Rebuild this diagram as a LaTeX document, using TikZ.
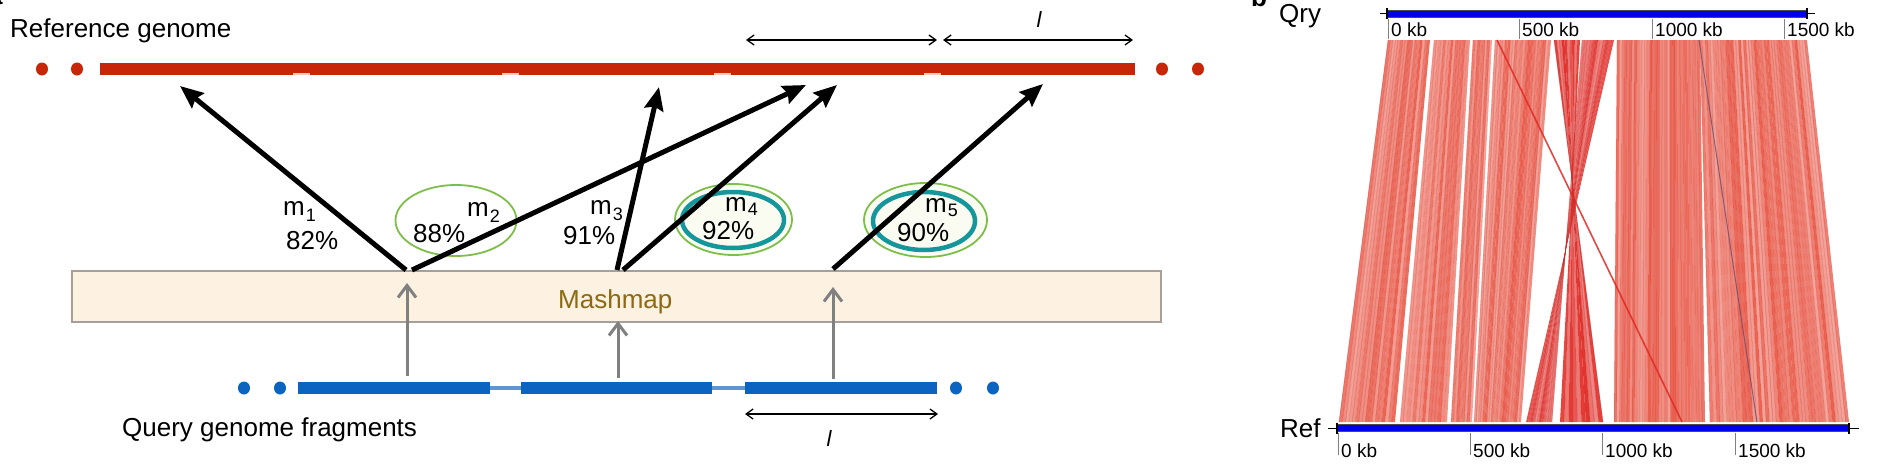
\documentclass[tikz,border=0pt]{standalone}
\usepackage{fontspec}
\setmainfont{Liberation Sans}
\usetikzlibrary{arrows.meta}
\definecolor{refred}{RGB}{200,38,8}
\definecolor{qblue}{RGB}{10,100,192}
\definecolor{qlight}{RGB}{95,150,210}
\definecolor{boxfill}{RGB}{253,241,226}
\definecolor{boxdraw}{RGB}{165,160,155}
\definecolor{mashtext}{RGB}{140,105,20}
\definecolor{ellgreen}{RGB}{125,190,75}
\definecolor{ellteal}{RGB}{20,150,155}
\definecolor{ellfill}{RGB}{250,252,242}
\definecolor{ribred}{RGB}{234,88,70}
\definecolor{ribdark}{RGB}{190,40,40}
\definecolor{ribdeep}{RGB}{225,40,35}
\definecolor{axblue}{RGB}{0,0,235}
\definecolor{feedgray}{RGB}{128,128,128}
\newcommand\msub[2][6pt]{m\kern1pt\raisebox{-#1}{\fontsize{18}{18}\selectfont #2}}
\newcommand\ribb[6][ribred]{%
  \foreach \i in {1,...,#6}{%
    \pgfmathsetmacro\ta{#2+(#3-#2)*(\i-1)/#6}%
    \pgfmathsetmacro\tb{#2+(#3-#2)*\i/#6}%
    \pgfmathsetmacro\ba{#4+(#5-#4)*(\i-1)/#6}%
    \pgfmathsetmacro\bb{#4+(#5-#4)*\i/#6}%
    \pgfmathsetmacro\op{0.55+0.4*rnd}%
    \pgfmathsetmacro\lo{0.15+0.35*rnd}%
    \fill[#1, fill opacity=\op] (\ta,40) -- (\tb,40) -- (\bb,422) -- (\ba,422) -- cycle;
    \draw[ribdark, line width=0.5pt, opacity=\lo] (\ta,40) -- (\ba,422);
  }}
\begin{document}
\begin{tikzpicture}[x=1pt,y=-1pt,
  txt/.style={font=\fontsize{26}{30}\selectfont, inner sep=0pt, anchor=base west},
  small/.style={font=\fontsize{19}{22}\selectfont, inner sep=0pt, anchor=base west},
  matcharrow/.style={line width=5pt, -{Stealth[length=23pt,width=19pt,inset=3pt]}},
  feed/.style={draw=feedgray, line width=3pt, -{Straight Barb[length=12pt,width=18pt]}},
  dimarrow/.style={line width=1.3pt, {Straight Barb[length=7pt,width=10pt]}-{Straight Barb[length=7pt,width=10pt]}},
  outerell/.style={draw=ellgreen, line width=1.8pt},
  innerell/.style={draw=ellteal, line width=4.5pt},
  tick/.style={draw=feedgray, line width=1pt}]
\useasboundingbox (0,0) rectangle (1878,471);
\clip (0,0) rectangle (1878,471);
\pgfmathsetseed{11}

% panel labels (clipped at top)
\node[font=\fontsize{26}{30}\selectfont\bfseries, inner sep=0pt, anchor=base west] (pa) at (-12,5) {a};
\node[font=\fontsize{26}{30}\selectfont\bfseries, inner sep=0pt, anchor=base west] (pb) at (1251,6) {b};

% ---------- panel a ----------
\node[txt] (reftitle) at (10,37) {Reference genome};
\fill[refred] (42,69) ellipse [x radius=6pt, y radius=6.5pt];
\fill[refred] (77,69) ellipse [x radius=6pt, y radius=6.5pt];
\fill[refred] (100,63) rectangle (1135,75);
\foreach \nx in {293,502,714,924}{\fill[refred!25] (\nx,73.2) rectangle ++(17,2);}
\fill[refred] (1162,69) ellipse [x radius=6pt, y radius=6.5pt];
\fill[refred] (1198,69) ellipse [x radius=6pt, y radius=6.5pt];

% length markers
\coordinate (d1a) at (746,40); \coordinate (d1b) at (937,40);
\coordinate (d2a) at (943,40); \coordinate (d2b) at (1133,40);
\draw[dimarrow] (d1a) -- (d1b);
\draw[dimarrow] (d2a) -- (d2b);
\node[font=\fontsize{22}{24}\selectfont\itshape, inner sep=0pt] (ltop) at (1039,20) {l};

% Mashmap box
\node[draw=boxdraw, fill=boxfill, line width=1.5pt, minimum width=1089pt, minimum height=51pt, inner sep=0pt] (mashbox) at (616.5,296.5) {};
\node[txt, text=mashtext] (mashlbl) at (558,308) {Mashmap};

% ellipses
\draw[outerell] (456,220.5) ellipse [x radius=60.5pt, y radius=35.5pt];
\draw[outerell, fill=ellfill] (733.5,219.5) ellipse [x radius=58.5pt, y radius=35.5pt];
\draw[innerell, fill=ellfill] (733,220) ellipse [x radius=51pt, y radius=28pt];
\draw[outerell, fill=ellfill] (925.5,220) ellipse [x radius=61.5pt, y radius=37pt];
\draw[innerell, fill=ellfill] (924,221) ellipse [x radius=51pt, y radius=29pt];

% mapping arrows
\coordinate (s1) at (406,270); \coordinate (t1) at (180,86);
\coordinate (s2) at (412,270); \coordinate (t2) at (806,85);
\coordinate (s3) at (617,270); \coordinate (t3) at (659,87);
\coordinate (s4) at (623,270); \coordinate (t4) at (837,85);
\coordinate (s5) at (833,269); \coordinate (t5) at (1043,84);
\draw[matcharrow] (s1) -- (t1);
\draw[matcharrow] (s2) -- (t2);
\draw[matcharrow] (s3) -- (t3);
\draw[matcharrow] (s4) -- (t4);
\draw[matcharrow] (s5) -- (t5);

% labels
\node[txt] (m1) at (283,215) {\msub{1}};
\node[txt] (p1) at (286,249) {82\%};
\node[txt] (m2) at (467,216) {\msub{2}};
\node[txt] (p2) at (413,242) {88\%};
\node[txt] (m3) at (590,214) {\msub{3}};
\node[txt] (p3) at (563,244) {91\%};
\node[txt] (m4) at (725,211) {\msub[4pt]{4}};
\node[txt] (p4) at (702,239) {92\%};
\node[txt] (m5) at (925,212) {\msub[4pt]{5}};
\node[txt] (p5) at (897,241) {90\%};

% query fragments
\draw[qlight, line width=4.5pt] (490,388) -- (521,388);
\draw[qlight, line width=4.5pt] (712,388) -- (745,388);
\fill[qblue] (298,382) rectangle (490,394);
\fill[qblue] (521,382) rectangle (712,394);
\fill[qblue] (745,382) rectangle (937,394);
\foreach \dx in {244,280,956,993}{\fill[qblue] (\dx,388) ellipse [x radius=6pt, y radius=6.5pt];}

% feeding arrows
\coordinate (g1b) at (407,376); \coordinate (g1t) at (407,283);
\coordinate (g2b) at (618,378); \coordinate (g2t) at (618,321);
\coordinate (g3b) at (833,379); \coordinate (g3t) at (833,287);
\draw[feed] (g1b) -- (g1t);
\draw[feed] (g2b) -- (g2t);
\draw[feed] (g3b) -- (g3t);

\coordinate (d3a) at (745,414); \coordinate (d3b) at (938,414);
\draw[dimarrow] (d3a) -- (d3b);
\node[font=\fontsize{22}{24}\selectfont\itshape, inner sep=0pt] (lbot) at (829,439) {l};
\node[txt] (qtitle) at (122,436) {Query genome fragments};

% ---------- panel b ----------
\ribb{1388}{1430}{1339}{1395}{17}
\ribb{1434}{1470}{1400}{1447}{15}
\ribb{1473}{1492}{1451}{1472}{8}
\ribb{1495}{1551}{1474}{1521}{22}
\ribb[ribdeep]{1554}{1580}{1603}{1560}{10}
\ribb[ribdeep]{1582}{1614}{1552}{1526}{12}
\ribb{1617}{1652}{1614}{1650}{14}
\ribb{1652}{1700}{1650}{1705}{19}
\ribb{1700}{1807}{1710}{1849}{42}
\coordinate (dq) at (1497,40); \coordinate (dr) at (1682,422);
\draw[ribdeep, line width=1.6pt, opacity=0.85] (dq) -- (dr);
\coordinate (kq) at (1699,40); \coordinate (kr) at (1757,422);
\draw[color={rgb,255:red,105;green,80;blue,115}, line width=1pt, opacity=0.8] (kq) -- (kr);

% Qry axis
\node[txt] (qry) at (1279,22) {Qry};
\draw[line width=1pt] (1380,13.5) -- (1815,13.5);
\draw[fill=axblue, draw=black!70, line width=0.6pt] (1387,10) rectangle (1807,17);
\draw[line width=1.2pt] (1387,8) -- (1387,19) (1807,8) -- (1807,19);
\foreach \tx/\tl in {1388/0 kb,1519/500 kb,1652/1000 kb,1784/1500 kb}{
  \draw[tick] (\tx,19) -- (\tx,39);
  \node[small] at (\tx+3,36) {\tl};
}

% Ref axis
\node[txt] (refb) at (1280,437) {Ref};
\draw[line width=1pt] (1328,428) -- (1859,428);
\draw[fill=axblue, draw=black!70, line width=0.6pt] (1337,424.5) rectangle (1849,431.5);
\draw[line width=1.2pt] (1337,423) -- (1337,434) (1849,423) -- (1849,434);
\foreach \tx/\tl in {1338/0 kb,1470/500 kb,1602/1000 kb,1735/1500 kb}{
  \draw[tick] (\tx,433) -- (\tx,455);
  \node[small] at (\tx+3,457) {\tl};
}
\end{tikzpicture}
\end{document}
